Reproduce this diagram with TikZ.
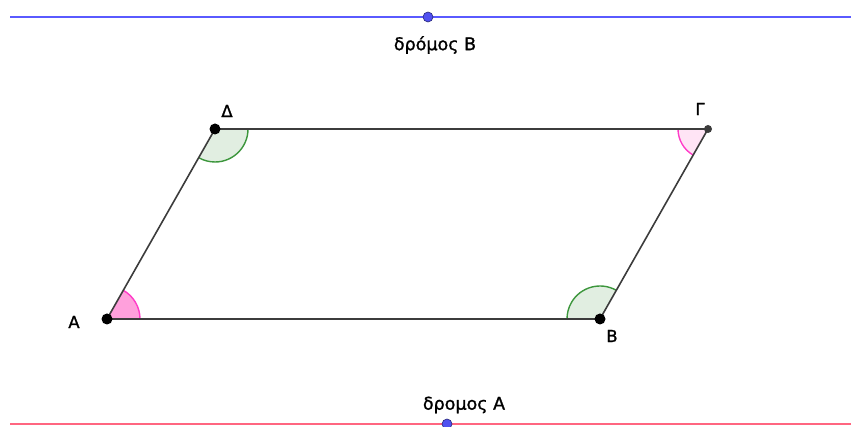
\documentclass[tikz,border=0pt]{standalone}
\usepackage{fontspec}
\setmainfont{DejaVu Sans}
\newfontfamily\semib[FakeBold=1.2]{DejaVu Sans}
\usetikzlibrary{calc}
\definecolor{blueline}{RGB}{90,90,255}
\definecolor{redline}{RGB}{255,102,128}
\definecolor{ptblue}{RGB}{80,80,240}
\definecolor{edge}{RGB}{60,60,60}
\definecolor{grn}{RGB}{60,150,60}
\definecolor{grnfill}{RGB}{225,238,225}
\definecolor{pnk}{RGB}{255,60,200}
\definecolor{pnkfill}{RGB}{255,160,220}
\definecolor{pnklight}{RGB}{255,228,245}
\tikzset{
  lbl/.style={font=\semib\fontsize{17.5}{20}\selectfont, inner sep=0pt},
  vlbl/.style={font=\semib\fontsize{16.5}{19}\selectfont, inner sep=0pt},
  vpt/.style={circle, fill=black, inner sep=0pt, minimum size=11pt},
  gpt/.style={circle, fill=edge, inner sep=0pt, minimum size=8pt},
  lpt/.style={circle, fill=ptblue, draw=ptblue!50!black, line width=0.6pt, inner sep=0pt, minimum size=10pt},
  side/.style={draw=edge, line width=1.6pt},
}
\begin{document}
\begin{tikzpicture}[x=1pt,y=1pt]
\useasboundingbox (0,0) rectangle (851,427);
% roads
\coordinate (bl) at (10,410);
\coordinate (br) at (851,410);
\coordinate (rl) at (10,3);
\coordinate (rr) at (851,3);
\draw[blueline, line width=1.8pt] (bl) -- (br);
\draw[redline, line width=1.8pt] (rl) -- (rr);
\node[lpt] (pB) at (428,410) {};
\node[lpt] (pA) at (447,3) {};
\node[lbl] (tB) at (435,382) {δρόμος Β};
\node[lbl] (tA) at (464,22) {δρομος Α};
% vertices
\coordinate (A) at (107,108);
\coordinate (B) at (600,108);
\coordinate (G) at (708,298);
\coordinate (D) at (215,298);
% angles
\fill[pnkfill] (A) -- ++(0:33) arc (0:60.4:33) -- cycle;
\draw[pnk, line width=1.4pt] ($(A)+(0:33)$) arc (0:60.4:33);
\fill[grnfill] (D) -- ++(0:33) arc (0:-119.6:33) -- cycle;
\draw[grn, line width=1.4pt] ($(D)+(0:33)$) arc (0:-119.6:33);
\fill[grnfill] (B) -- ++(60.4:33) arc (60.4:180:33) -- cycle;
\draw[grn, line width=1.4pt] ($(B)+(60.4:33)$) arc (60.4:180:33);
\fill[pnklight] (G) -- ++(180:30) arc (180:240.4:30) -- cycle;
\draw[pnk, line width=1.4pt] ($(G)+(180:30)$) arc (180:240.4:30);
% sides
\draw[side] (A) -- (B) -- (G) -- (D) -- cycle;
\node[vpt] (nA) at (A) {};
\node[vpt] (nB) at (B) {};
\node[gpt] (nG) at (G) {};
\node[vpt] (nD) at (D) {};
\node[vlbl] (lA) at (74,105) {A};
\node[vlbl] (lB) at (612,91) {B};
\node[vlbl] (lG) at (700,318) {Γ};
\node[vlbl] (lD) at (227,316) {Δ};
\end{tikzpicture}
\end{document}
